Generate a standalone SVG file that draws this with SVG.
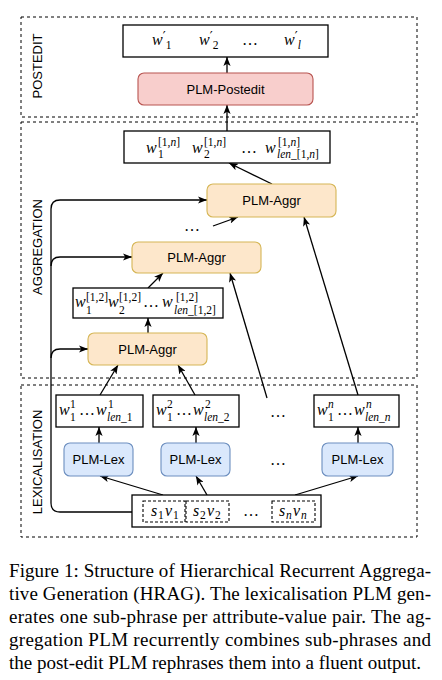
<svg xmlns="http://www.w3.org/2000/svg" width="442" height="680" viewBox="0 0 442 680">
<style>
.sec{fill:none;stroke:#000;stroke-width:1;stroke-dasharray:3 3}
.box{fill:#fff;stroke:#000;stroke-width:1.3}
.dbox{fill:none;stroke:#000;stroke-width:1.1;stroke-dasharray:3 2}
.post{fill:#f8cecc;stroke:#b85450;stroke-width:1.1}
.aggr{fill:#fde7cb;stroke:#d6b656;stroke-width:1.1}
.lex{fill:#dae8fc;stroke:#6c8ebf;stroke-width:1.1}
.lbl{font-family:"Liberation Sans",Arial,sans-serif;font-size:13px;fill:#000;text-anchor:middle;dominant-baseline:central}
.mi{font-family:"Liberation Serif","Times New Roman",serif;font-style:italic;font-size:16px;fill:#000}
.ss{font-family:"Liberation Serif","Times New Roman",serif;font-style:normal;font-size:11.5px;fill:#000}
.pr{font-family:"DejaVu Sans",sans-serif;font-style:normal;font-size:13px}
.it{font-style:italic}
.dots{font-family:"Liberation Serif","Times New Roman",serif;font-size:16px;fill:#000}
.cap{font-family:"Liberation Serif","Times New Roman",serif;font-size:19px;fill:#000}
.ln{fill:none;stroke:#000;stroke-width:1.3}
</style>
<defs>
<marker id="a" viewBox="0 0 10 8" refX="10" refY="4" markerWidth="9" markerHeight="7.2" orient="auto" markerUnits="userSpaceOnUse">
<path d="M0,0 L10,4 L0,8 L2.5,4 z" fill="#000"/>
</marker>
</defs>

<g id="sections">
<rect class="sec" x="21" y="17" width="396" height="100"/>
<text class="lbl" x="37" y="66" transform="rotate(-90 37 66)">POSTEDIT</text>
<rect class="sec" x="21" y="122" width="396" height="256"/>
<text class="lbl" x="37" y="247" transform="rotate(-90 37 247)">AGGREGATION</text>
<rect class="sec" x="21" y="385" width="396" height="152"/>
<text class="lbl" x="37" y="462" transform="rotate(-90 37 462)">LEXICALISATION</text>
</g>

<g id="connectors">
<path class="ln" d="M227 73 V57" marker-end="url(#a)"/>
<path class="ln" d="M227 131 V105" marker-end="url(#a)"/>
<path class="ln" d="M272 184 L229 163" marker-end="url(#a)"/>
<path class="ln" d="M213 226 L238 217" marker-end="url(#a)"/>
<path class="ln" d="M148 288 L163 273" marker-end="url(#a)"/>
<path class="ln" d="M148 333 V318" marker-end="url(#a)"/>
<path class="ln" d="M100 395 L118 365" marker-end="url(#a)"/>
<path class="ln" d="M195 395 L178 365" marker-end="url(#a)"/>
<path class="ln" d="M267 398 L230 273" marker-end="url(#a)"/>
<path class="ln" d="M358 395 L304 217" marker-end="url(#a)"/>
<path class="ln" d="M99 443 V427" marker-end="url(#a)"/>
<path class="ln" d="M196 443 V427" marker-end="url(#a)"/>
<path class="ln" d="M358 443 V427" marker-end="url(#a)"/>
<path class="ln" d="M163 495 L100 476" marker-end="url(#a)"/>
<path class="ln" d="M207 495 L196 476" marker-end="url(#a)"/>
<path class="ln" d="M295 495 L358 476" marker-end="url(#a)"/>
<path class="ln" d="M132 512 H60 Q51 512 51 503 V209 Q51 200 60 200 H207" marker-end="url(#a)"/>
<path class="ln" d="M51 266 Q51 257 60 257 H132" marker-end="url(#a)"/>
<path class="ln" d="M51 358 Q51 349 60 349 H88" marker-end="url(#a)"/>
</g>

<g id="out">
<rect class="box" x="123" y="25" width="205" height="32"/>
<text class="mi" x="152" y="45">w<tspan class="pr" dy="-5">′</tspan><tspan class="ss" dy="9">1</tspan></text>
<text class="mi" x="199" y="45">w<tspan class="pr" dy="-5">′</tspan><tspan class="ss" dy="9">2</tspan></text>
<text class="dots" x="242" y="45">…</text>
<text class="mi" x="284" y="45">w<tspan class="pr" dy="-5">′</tspan><tspan class="ss it" dy="9">l</tspan></text>
</g>

<g id="postedit">
<rect class="post" x="138" y="73" width="175" height="32" rx="6"/>
<text class="lbl" x="225.5" y="89">PLM-Postedit</text>
</g>

<g id="w1n">
<rect class="box" x="124" y="131" width="206" height="32"/>
<text class="mi" x="146" y="153">w</text><text class="ss" x="158" y="146">[1,<tspan class="it">n</tspan>]</text><text class="ss" x="158" y="158">1</text>
<text class="mi" x="192" y="153">w</text><text class="ss" x="204" y="146">[1,<tspan class="it">n</tspan>]</text><text class="ss" x="204" y="158">2</text>
<text class="dots" x="241" y="153">…</text>
<text class="mi" x="265" y="153">w</text><text class="ss" x="278" y="146">[1,<tspan class="it">n</tspan>]</text><text class="ss" x="277" y="158"><tspan class="it">len</tspan>_[1,<tspan class="it">n</tspan>]</text>
</g>

<g id="aggr3">
<rect class="aggr" x="207" y="184" width="129" height="33" rx="6"/>
<text class="lbl" x="271.5" y="200.5">PLM-Aggr</text>
</g>
<text class="dots" x="184" y="231">…</text>

<g id="aggr2">
<rect class="aggr" x="132" y="242" width="129" height="31" rx="6"/>
<text class="lbl" x="196.5" y="257.5">PLM-Aggr</text>
</g>

<g id="w12">
<rect class="box" x="73" y="288" width="150" height="30"/>
<text class="mi" x="75" y="307">w</text><text class="ss" x="86" y="301">[1,2]</text><text class="ss" x="86" y="314">1</text>
<text class="mi" x="108" y="307">w</text><text class="ss" x="119" y="301">[1,2]</text><text class="ss" x="119" y="314">2</text>
<text class="dots" x="143" y="307">…</text>
<text class="mi" x="162" y="307">w</text><text class="ss" x="176" y="301">[1,2]</text><text class="ss" x="174" y="314"><tspan class="it">len</tspan>_[1,2]</text>
</g>

<g id="aggr1">
<rect class="aggr" x="88" y="333" width="119" height="32" rx="6"/>
<text class="lbl" x="147.5" y="349">PLM-Aggr</text>
</g>

<g id="wl1">
<rect class="box" x="56" y="395" width="87" height="32"/>
<text class="mi" x="59" y="415">w</text><text class="ss" x="70" y="408">1</text><text class="ss" x="70" y="421">1</text>
<text class="dots" x="79" y="415">…</text>
<text class="mi" x="96" y="415">w</text><text class="ss" x="108" y="408">1</text><text class="ss" x="107" y="421"><tspan class="it">len</tspan>_1</text>
</g>
<g id="wl2">
<rect class="box" x="153" y="395" width="86" height="32"/>
<text class="mi" x="156" y="415">w</text><text class="ss" x="167" y="408">2</text><text class="ss" x="167" y="421">1</text>
<text class="dots" x="176" y="415">…</text>
<text class="mi" x="193" y="415">w</text><text class="ss" x="205" y="408">2</text><text class="ss" x="204" y="421"><tspan class="it">len</tspan>_2</text>
</g>
<text class="dots" x="270" y="417">…</text>
<g id="wln">
<rect class="box" x="314" y="395" width="85" height="32"/>
<text class="mi" x="317" y="415">w</text><text class="ss it" x="328" y="408">n</text><text class="ss" x="328" y="421">1</text>
<text class="dots" x="337" y="415">…</text>
<text class="mi" x="354" y="415">w</text><text class="ss it" x="366" y="408">n</text><text class="ss" x="365" y="421"><tspan class="it">len</tspan>_<tspan class="it">n</tspan></text>
</g>

<g id="lex1">
<rect class="lex" x="64" y="443" width="69" height="33" rx="6"/>
<text class="lbl" x="98.5" y="459.5">PLM-Lex</text>
</g>
<g id="lex2">
<rect class="lex" x="161" y="443" width="69" height="33" rx="6"/>
<text class="lbl" x="195.5" y="459.5">PLM-Lex</text>
</g>
<text class="dots" x="270" y="465">…</text>
<g id="lexn">
<rect class="lex" x="322" y="443" width="71" height="33" rx="6"/>
<text class="lbl" x="357.5" y="459.5">PLM-Lex</text>
</g>

<g id="input">
<rect class="box" x="132" y="495" width="189" height="32"/>
<rect class="dbox" x="143" y="501" width="42" height="21"/>
<rect class="dbox" x="186" y="501" width="43" height="21"/>
<rect class="dbox" x="272" y="501" width="43" height="21"/>
<text class="mi" x="151" y="516">s</text><text class="ss" x="158" y="519">1</text><text class="mi" x="165" y="516">v</text><text class="ss" x="173" y="519">1</text>
<text class="mi" x="193" y="516">s</text><text class="ss" x="200" y="519">2</text><text class="mi" x="207" y="516">v</text><text class="ss" x="215" y="519">2</text>
<text class="dots" x="243" y="516">…</text>
<text class="mi" x="279" y="516">s</text><text class="ss it" x="286" y="519">n</text><text class="mi" x="293" y="516">v</text><text class="ss it" x="301" y="519">n</text>
</g>

<g id="caption">
<text class="cap" x="9" y="577" textLength="422" lengthAdjust="spacing">Figure 1: Structure of Hierarchical Recurrent Aggrega-</text>
<text class="cap" x="9" y="600" textLength="422" lengthAdjust="spacing">tive Generation (HRAG). The lexicalisation PLM gen-</text>
<text class="cap" x="9" y="623" textLength="422" lengthAdjust="spacing">erates one sub-phrase per attribute-value pair.  The ag-</text>
<text class="cap" x="9" y="646" textLength="422" lengthAdjust="spacing">gregation PLM recurrently combines sub-phrases and</text>
<text class="cap" x="9" y="669">the post-edit PLM rephrases them into a fluent output.</text>
</g>
</svg>
